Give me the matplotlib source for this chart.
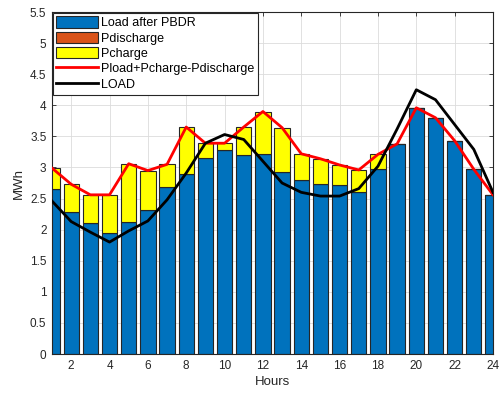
import matplotlib
matplotlib.use("Agg")
import matplotlib.pyplot as plt
import numpy as np

plt.rcParams["font.family"] = ["Liberation Sans", "DejaVu Sans"]

# ── hourly data (MWh) ─────────────────────────────────────────────────────────
hours = np.arange(1, 25)
load_pbdr = [2.65, 2.29, 2.11, 1.95, 2.12, 2.31, 2.68, 2.90, 3.15, 3.28, 3.20, 3.22,
             2.92, 2.80, 2.74, 2.72, 2.60, 2.98, 3.38, 3.96, 3.80, 3.43, 2.97, 2.56]
p_discharge = [0.0] * 24
p_charge = [0.34, 0.44, 0.45, 0.61, 0.94, 0.64, 0.37, 0.75, 0.24, 0.11, 0.45, 0.68,
            0.72, 0.42, 0.40, 0.32, 0.36, 0.23, 0.0, 0.0, 0.0, 0.0, 0.0, 0.0]
load_orig = [2.46, 2.13, 1.96, 1.80, 1.98, 2.14, 2.48, 2.91, 3.39, 3.53, 3.45, 3.10,
             2.75, 2.60, 2.54, 2.54, 2.66, 3.02, 3.62, 4.25, 4.09, 3.69, 3.29, 2.60]

pbdr = np.array(load_pbdr)
dis = np.array(p_discharge)
chg = np.array(p_charge)
net = pbdr + chg - dis

C = dict(blue="#0072BD", orange="#D95319", yellow="#FFFF00",
         red="#FF0000", black="#000000", grid="#DCDCDC", edge="#262626")

fig = plt.figure(figsize=(5.0, 3.94), dpi=100)
ax = fig.add_axes([0.104, 0.1015, 0.882, 0.868])

w = 0.8
b1 = ax.bar(hours, pbdr, w, color=C["blue"], edgecolor=C["edge"], lw=0.8,
            label="Load after PBDR", zorder=2)
b2 = ax.bar(hours, dis, w, bottom=pbdr, color=C["orange"], edgecolor=C["edge"],
            lw=0.8, label="Pdischarge", zorder=2)
b3 = ax.bar(hours, chg, w, bottom=pbdr + dis, color=C["yellow"], edgecolor=C["edge"],
            lw=0.8, label="Pcharge", zorder=2)
l1, = ax.plot(hours, net, color=C["red"], lw=2, label="Pload+Pcharge-Pdischarge",
              zorder=3)
l2, = ax.plot(hours, load_orig, color=C["black"], lw=2, label="LOAD", zorder=3)

ax.set_xlim(1, 24)
ax.set_ylim(0, 5.5)
ax.set_xticks(np.arange(2, 25, 2))
yt = np.arange(0, 5.51, 0.5)
ax.set_yticks(yt)
ax.set_yticklabels([f"{v:g}" for v in yt])
ax.grid(True, color=C["grid"], lw=0.6, zorder=0)
ax.set_axisbelow(True)
ax.tick_params(direction="in", top=True, right=True, length=3, width=0.6,
               labelsize=8.5, colors="#262626", pad=4)
for s in ax.spines.values():
    s.set_color("#262626")
    s.set_linewidth(0.8)

ax.set_xlabel("Hours", fontsize=9.5, color="#262626", labelpad=3)
ax.set_ylabel("MWh", fontsize=9.5, color="#262626", labelpad=4)

leg = ax.legend(handles=[b1, b2, b3, l1, l2], loc="upper left", fontsize=9,
                handlelength=3.3, handleheight=1.0, borderaxespad=0.05,
                borderpad=0.3, labelspacing=0.2, handletextpad=0.3,
                fancybox=False, framealpha=1)
leg.get_frame().set_edgecolor("#262626")
leg.get_frame().set_linewidth(0.8)

fig.savefig("out.png", dpi=100)
